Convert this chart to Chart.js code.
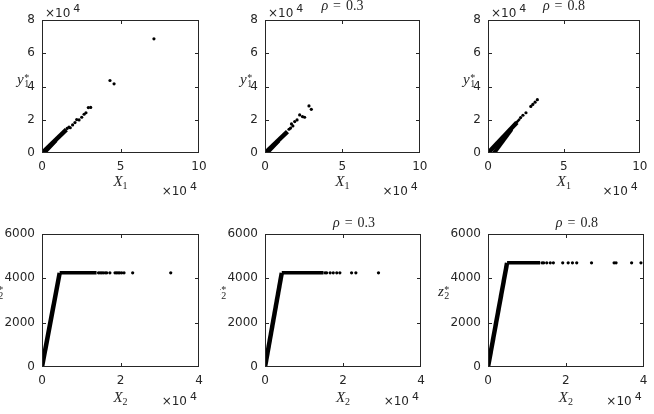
<!DOCTYPE html>
<html>
<head>
<meta charset="utf-8">
<script src="https://cdn.jsdelivr.net/npm/chart.js@4.4.1/dist/chart.umd.min.js"></script>
<style>
  body { margin: 0; background: #fff; }
  #wrap { position: relative; width: 654px; height: 414px; overflow: hidden; }
  canvas { position: absolute; }
</style>
</head>
<body>
<div id="wrap">
  <canvas id="pa" width="220" height="207" style="left:0;top:0"></canvas>
  <canvas id="pb" width="214" height="207" style="left:220px;top:0"></canvas>
  <canvas id="pc" width="220" height="207" style="left:434px;top:0"></canvas>
  <canvas id="pd" width="220" height="207" style="left:0;top:207px"></canvas>
  <canvas id="pe" width="214" height="207" style="left:220px;top:207px"></canvas>
  <canvas id="pf" width="220" height="207" style="left:434px;top:207px"></canvas>
</div>
<script>
// tick values
const topXTicks = [0, 50000, 100000];
const topYTicks = [0, 20000, 40000, 60000, 80000];
const botXTicks = [0, 20000, 40000];
const botYTicks = [0, 2000, 4000, 6000];
const rhoLabels = ['', '0.3', '0.8'];

// (a) X1 vs y1*
const aLineX = [0, 15500];
const aLineY = [0, 14000];
const aWedgeX = [1500, 9000];
const aWedgeY = [0, 7500];
const aPtX = [16000, 17200, 18000, 19500, 21000, 22100, 23600, 25300, 26800, 28000, 29500, 31000, 43300, 45900, 71300];
const aPtY = [14800, 15600, 15200, 16900, 18300, 20100, 19900, 21500, 23300, 24200, 27300, 27400, 43600, 41600, 68700];

// (b) rho = 0.3
const bLineX = [0, 14500];
const bLineY = [0, 12800];
const bWedgeX = [1500, 9000];
const bWedgeY = [0, 7300];
const bPtX = [15500, 16500, 17100, 18000, 19200, 20700, 22400, 24200, 25600, 28400, 29900];
const bPtY = [14300, 15000, 17500, 16300, 18900, 19900, 22900, 21900, 21500, 28300, 26300];

// (c) rho = 0.8
const cLineX = [0, 19000];
const cLineY = [0, 18300];
const cThinX = [0, 21000];
const cThinY = [0, 20500];
const cWedgeX = [4000, 15500];
const cWedgeY = [0, 14200];
const cPtX = [21500, 23000, 25000, 28200, 29500, 31000, 32500];
const cPtY = [21300, 22700, 24200, 28000, 29200, 30600, 32100];

// (d) X2 vs z2*
const dRampX = [0, 4500];
const dRampY = [0, 4250];
const dFlatX = [4500, 13900];
const dFlatY = [4250, 4250];
const dPtX = [14400, 14800, 15200, 15600, 16100, 16500, 17300, 18600, 19000, 19400, 19800, 20300, 20900, 23100, 32800];
const dPtY = [4250, 4250, 4250, 4250, 4250, 4250, 4250, 4250, 4250, 4250, 4250, 4250, 4250, 4250, 4250];

// (e) rho = 0.3
const eRampX = [0, 4300];
const eRampY = [0, 4250];
const eFlatX = [4300, 15000];
const eFlatY = [4250, 4250];
const ePtX = [15400, 15800, 16700, 17500, 18400, 19200, 22200, 23300, 29100];
const ePtY = [4250, 4250, 4250, 4250, 4250, 4250, 4250, 4250, 4250];

// (f) rho = 0.8
const fRampX = [0, 4900];
const fRampY = [0, 4700];
const fFlatX = [4900, 13400];
const fFlatY = [4700, 4700];
const fPtX = [13900, 14300, 15100, 16000, 16800, 19200, 20600, 21700, 22800, 26600, 32400, 32900, 36900, 39300];
const fPtY = [4700, 4700, 4700, 4700, 4700, 4700, 4700, 4700, 4700, 4700, 4700, 4700, 4700, 4700];

const INK = '#262626';
const TICK_FONT = { family: 'DejaVu Sans', size: 12 };
const SERIF = '"Liberation Serif", "Times New Roman", serif';

function pts(xs, ys) {
    return xs.map((v, i) => ({ x: v, y: ys[i] }));
}

function lineSet(xs, ys, w) {
    return { data: pts(xs, ys), showLine: true, borderColor: '#000', borderWidth: w,
             pointRadius: 0, borderCapStyle: 'butt' };
}

function put(ctx, s, x, y, font) {
    ctx.font = font;
    ctx.fillText(s, x, y);
    return ctx.measureText(s).width;
}

// x10^4 style multiplier
function power(ctx, x, y, alignRight) {
    ctx.font = '12px "DejaVu Sans"';
    const w1 = ctx.measureText('\u00d710').width;
    ctx.font = '11px "DejaVu Sans"';
    const w2 = ctx.measureText('4').width;
    const x0 = alignRight ? x - (w1 + 3 + w2) : x;
    put(ctx, '\u00d710', x0, y, '12px "DejaVu Sans"');
    put(ctx, '4', x0 + w1 + 3, y - 5, '11px "DejaVu Sans"');
}

function makeFrame(o) {
    return {
        id: 'frame',
        afterDraw(chart) {
            const ctx = chart.ctx;
            const a = chart.chartArea;
            const L = Math.round(a.left), R = Math.round(a.right);
            const T = Math.round(a.top), B = Math.round(a.bottom);
            ctx.save();
            ctx.setLineDash([]);
            ctx.globalAlpha = 1;
            ctx.fillStyle = INK;
            // box
            ctx.fillRect(L, T, R - L, 1);
            ctx.fillRect(L, B - 1, R - L, 1);
            ctx.fillRect(L, T, 1, B - T);
            ctx.fillRect(R - 1, T, 1, B - T);
            // inward ticks on all four sides
            chart.scales.x.ticks.forEach(t => {
                const px = Math.round(chart.scales.x.getPixelForValue(t.value));
                const cx = Math.min(Math.max(px, L), R - 1);
                ctx.fillRect(cx, B - 4, 1, 3);
                ctx.fillRect(cx, T + 1, 1, 3);
            });
            chart.scales.y.ticks.forEach(t => {
                const py = Math.round(chart.scales.y.getPixelForValue(t.value));
                const cy = Math.min(Math.max(py, T), B - 1);
                ctx.fillRect(L + 1, cy, 3, 1);
                ctx.fillRect(R - 4, cy, 3, 1);
            });

            ctx.textAlign = 'left';
            ctx.textBaseline = 'alphabetic';

            // exponent labels
            if (o.yPow) power(ctx, a.left + 3, a.top - 3, false);
            power(ctx, a.right - 2, a.bottom + o.xPowDy, true);

            // x label
            ctx.font = 'italic 15px ' + SERIF;
            const wx = ctx.measureText(o.xName).width;
            ctx.font = '10px ' + SERIF;
            const ws = ctx.measureText(o.sub).width;
            const x0 = (a.left + a.right) / 2 - (wx + ws) / 2;
            const bx = a.bottom + o.xLabDy;
            put(ctx, o.xName, x0, bx, 'italic 15px ' + SERIF);
            put(ctx, o.sub, x0 + wx, bx + 3, '10px ' + SERIF);

            // y label (horizontal, with sub and star)
            const yl = a.left - o.yLabDx;
            const by = a.top + o.yLabDy;
            const wy = put(ctx, o.yName, yl, by, 'italic 15px ' + SERIF);
            put(ctx, o.sub, yl + wy + 0.5, by + 2.5, '10px ' + SERIF);
            put(ctx, '*', yl + wy + 0.5, by - 3.5, '10px ' + SERIF);

            // title
            if (o.rho) {
                ctx.font = 'italic 14px ' + SERIF;
                const w1 = ctx.measureText('\u03c1').width;
                ctx.font = '14px ' + SERIF;
                const w2 = ctx.measureText('=').width;
                const w3 = ctx.measureText(o.rho).width;
                const tot = w1 + 5 + w2 + 5 + w3;
                let tx = (a.left + a.right) / 2 + o.titleDx - tot / 2;
                const ty = a.top - o.titleDy;
                put(ctx, '\u03c1', tx, ty, 'italic 14px ' + SERIF);
                tx += w1 + 5;
                put(ctx, '=', tx, ty, '14px ' + SERIF);
                tx += w2 + 5;
                put(ctx, o.rho, tx, ty, '14px ' + SERIF);
            }
            ctx.restore();
        }
    };
}

function makePanel(id, o) {
    const datasets = o.lines.map(l => lineSet(l[0], l[1], l[2]));
    datasets.push({ data: pts(o.ptX, o.ptY), pointRadius: 1.6, pointBackgroundColor: '#000',
                    pointBorderWidth: 0, showLine: false });
    new Chart(document.getElementById(id), {
        type: 'scatter',
        data: { datasets: datasets },
        options: {
            responsive: false,
            animation: false,
            layout: { padding: { left: 0, top: o.padTop, right: o.padRight, bottom: o.padBottom } },
            plugins: { legend: { display: false }, tooltip: { enabled: false } },
            scales: {
                x: {
                    type: 'linear',
                    min: o.xTicks[0], max: o.xTicks[o.xTicks.length - 1],
                    afterBuildTicks: s => { s.ticks = o.xTicks.map(v => ({ value: v })); },
                    afterFit: s => { s.height = 30; },
                    grid: { display: false, drawTicks: false }, border: { display: false },
                    ticks: { autoSkip: false, maxRotation: 0, padding: 6.5, color: INK, font: TICK_FONT,
                             callback: v => String(v / 10000) }
                },
                y: {
                    type: 'linear',
                    min: o.yTicks[0], max: o.yTicks[o.yTicks.length - 1],
                    afterBuildTicks: s => { s.ticks = o.yTicks.map(v => ({ value: v })); },
                    afterFit: s => { s.width = o.yWidth; },
                    grid: { display: false, drawTicks: false }, border: { display: false },
                    ticks: { autoSkip: false, padding: 7, color: INK, font: TICK_FONT,
                             callback: v => String(v / o.yDiv) }
                }
            }
        },
        plugins: [makeFrame(o)]
    });
}

function init() {
    const top = { xTicks: topXTicks, yTicks: topYTicks, yDiv: 10000, yPow: true,
                  padTop: 20, padBottom: 24, xName: 'X', yName: 'y', sub: '1',
                  xLabDy: 33, xPowDy: 42, yLabDx: 25, yLabDy: 64, titleDx: 0, titleDy: 10 };
    const bot = { xTicks: botXTicks, yTicks: botYTicks, yDiv: 1, yPow: false,
                  padTop: 27, padBottom: 17, xName: 'X', yName: 'z', sub: '2',
                  xLabDy: 35, xPowDy: 38, yLabDx: 50, yLabDy: 62, titleDx: 11, titleDy: 7 };
    const cols = [{ yWidth: 42, padRight: 21 }, { yWidth: 45, padRight: 13 }, { yWidth: 54, padRight: 9 }];

    makePanel('pa', Object.assign({}, top, cols[0], { rho: rhoLabels[0],
        lines: [[aLineX, aLineY, 4.5], [aWedgeX, aWedgeY, 3.5]], ptX: aPtX, ptY: aPtY }));
    makePanel('pb', Object.assign({}, top, cols[1], { rho: rhoLabels[1],
        lines: [[bLineX, bLineY, 4.5], [bWedgeX, bWedgeY, 3.5]], ptX: bPtX, ptY: bPtY }));
    makePanel('pc', Object.assign({}, top, cols[2], { rho: rhoLabels[2],
        lines: [[cLineX, cLineY, 4.5], [cThinX, cThinY, 2.5], [cWedgeX, cWedgeY, 4]], ptX: cPtX, ptY: cPtY }));
    makePanel('pd', Object.assign({}, bot, cols[0], { rho: rhoLabels[0],
        lines: [[dRampX, dRampY, 4.5], [dFlatX, dFlatY, 3.5]], ptX: dPtX, ptY: dPtY }));
    makePanel('pe', Object.assign({}, bot, cols[1], { rho: rhoLabels[1],
        lines: [[eRampX, eRampY, 4.5], [eFlatX, eFlatY, 3.5]], ptX: ePtX, ptY: ePtY }));
    makePanel('pf', Object.assign({}, bot, cols[2], { rho: rhoLabels[2],
        lines: [[fRampX, fRampY, 4.5], [fFlatX, fFlatY, 3.5]], ptX: fPtX, ptY: fPtY }));
}

window.addEventListener('load', init);
</script>
</body>
</html>
